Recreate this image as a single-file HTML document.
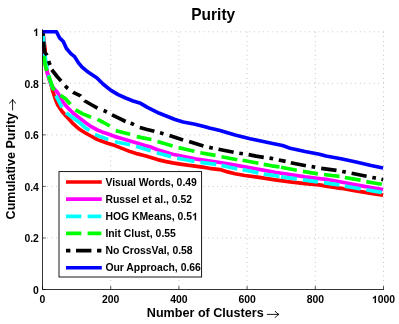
<!DOCTYPE html>
<html><head><meta charset="utf-8"><title>Purity</title>
<style>html,body{margin:0;padding:0;background:#fff;}body{width:399px;height:324px;overflow:hidden;position:relative;font-family:"Liberation Sans",sans-serif;}</style></head>
<body>
<svg width="399" height="324" viewBox="0 0 399 324" style="display:block;position:absolute;left:0;top:0;will-change:transform">
<rect x="0" y="0" width="399" height="324" fill="#fff"/>
<g stroke="#000" stroke-width="0.5" stroke-dasharray="0.7 3.9" opacity="0.62" fill="none"><line x1="110.70" y1="31.8" x2="110.70" y2="289.5"/><line x1="178.90" y1="31.8" x2="178.90" y2="289.5"/><line x1="247.10" y1="31.8" x2="247.10" y2="289.5"/><line x1="315.30" y1="31.8" x2="315.30" y2="289.5"/><line x1="383.50" y1="31.8" x2="383.50" y2="289.5"/><line x1="42.5" y1="237.96" x2="383.5" y2="237.96"/><line x1="42.5" y1="186.42" x2="383.5" y2="186.42"/><line x1="42.5" y1="134.88" x2="383.5" y2="134.88"/><line x1="42.5" y1="83.34" x2="383.5" y2="83.34"/><line x1="42.5" y1="31.80" x2="383.5" y2="31.80"/></g>
<clipPath id="c"><rect x="42.1" y="20" width="350" height="280"/></clipPath>
<g fill="none" stroke-linejoin="round" stroke-width="3.7" clip-path="url(#c)">
<polyline stroke="#ff0000" points="43.00,32.00 43.60,38.00 44.40,44.00 45.10,49.00 45.20,56.00 45.30,63.00 46.40,69.00 48.00,75.00 49.90,81.00 51.50,86.50 52.75,91.25 55.25,98.75 57.75,105.00 61.90,111.25 66.25,116.25 72.50,123.10 78.75,128.75 85.00,132.75 91.25,136.25 97.50,139.60 100.00,140.60 107.50,143.30 115.00,145.60 122.60,148.60 130.10,151.60 137.60,153.90 145.10,155.80 150.00,157.30 157.50,159.60 165.00,161.40 172.60,162.90 180.10,164.10 187.60,165.20 195.10,166.10 202.60,167.10 209.40,168.30 220.00,169.60 227.60,171.90 235.10,173.80 245.00,175.50 257.50,177.20 275.00,179.80 290.10,181.90 305.10,183.60 319.40,184.90 326.00,186.10 341.00,188.30 356.10,190.90 371.10,193.30 383.10,195.10"/>
<polyline stroke="#ff00ff" points="43.00,32.00 43.60,45.00 44.40,56.00 45.80,66.00 47.60,74.00 49.80,81.00 52.50,86.50 55.00,89.80 57.75,92.80 62.50,101.50 67.50,107.50 72.50,112.50 78.75,117.50 85.00,122.30 91.25,126.70 97.50,130.00 103.75,132.60 107.50,133.80 115.00,136.60 122.60,138.80 130.10,141.10 137.60,143.30 145.10,145.60 150.00,146.80 157.50,149.80 165.00,152.10 172.60,154.30 180.10,155.80 187.60,157.30 195.10,158.80 205.00,160.30 220.00,162.50 235.10,165.10 250.10,167.80 264.40,170.40 275.00,172.30 290.10,174.50 305.10,176.80 319.40,178.60 326.00,179.30 341.00,182.00 356.10,184.90 371.10,187.60 383.10,189.50"/>
<path stroke="#00ffff" d="M43.00 32.00 L43.40 38.00 L44.00 46.00 L44.15 47.50M44.75 53.50 L44.80 54.00 L46.00 63.00 L47.20 69.00M48.55 75.00 L49.50 79.00 L51.50 85.00 L52.95 89.00M55.90 95.60 L59.00 101.50 L62.10 107.50M66.25 112.90 L66.40 113.10 L72.50 117.50 L78.75 121.90 L85.00 127.50 L89.40 130.60M95.00 134.40 L100.00 136.60 L108.30 139.60M115.00 141.80 L122.50 143.30 L130.10 144.80M136.10 146.30 L143.30 148.60 L150.50 150.80 L150.60 150.83M156.80 152.80 L164.00 154.70 L171.00 156.60M177.10 158.10 L185.70 159.80 L194.40 161.40M200.40 162.30 L208.30 163.30 L216.30 164.30M221.50 165.40 L229.40 167.20 L237.30 168.90M242.60 169.60 L250.50 171.30 L258.40 172.90M263.75 174.10 L271.60 175.20 L279.50 176.30M281.00 176.80 L288.90 177.90 L296.80 178.90M302.90 179.80 L310.40 180.90 L317.90 181.90M324.00 182.60 L331.70 183.80 L339.50 184.90M344.80 186.10 L352.70 187.50 L360.60 188.80M366.30 189.80 L374.00 191.10 L381.60 192.40 L381.80 192.44"/>
<path stroke="#00ff00" d="M43.80 56.00 L45.00 64.00 L46.75 71.00M48.60 76.00 L50.90 82.00 L53.00 88.00 L54.60 90.30M60.40 95.20 L65.25 98.50 L70.40 104.20M75.40 109.80 L82.75 113.90 L91.10 117.20M97.50 119.40 L103.50 122.50 L109.80 126.00M115.80 130.60 L123.00 132.50 L130.10 134.30M136.80 136.60 L144.00 138.10 L151.40 139.50M157.50 141.50 L165.00 143.80 L172.60 146.10M178.60 147.60 L186.50 149.50 L194.40 151.30M200.40 152.80 L208.00 154.10 L215.50 155.30M221.50 156.80 L229.40 158.30 L237.30 159.80M242.60 160.30 L250.50 161.80 L258.40 163.30M263.75 164.40 L271.60 165.80 L279.50 166.90M281.00 167.30 L288.90 168.80 L296.80 170.30M302.90 171.40 L310.40 172.60 L317.90 173.80M324.00 174.50 L331.70 175.50 L339.50 176.30M344.80 177.50 L352.70 178.80 L360.60 180.10M366.30 181.60 L374.00 183.00 L381.60 184.30 L381.80 184.34"/>
<path stroke="#000000" d="M42.80 30.00 L43.19 35.90M43.58 41.70 L43.60 42.00 L44.10 48.00 L44.80 52.20 L46.60 54.80 L46.78 55.30M48.67 61.00 L49.25 62.90 L50.02 65.00M51.75 69.75 L57.50 77.00 L61.10 81.00M65.20 85.77 L66.60 87.40 L68.00 88.44M73.00 92.15 L73.20 92.30 L80.50 95.80 L80.75 96.09M84.50 100.42 L85.00 101.00 L91.00 104.50 L97.50 108.10M103.60 110.52 L105.30 111.20 L106.80 112.01M112.00 114.80 L118.80 118.20 L125.60 121.50M130.60 123.22 L132.30 123.80 L134.00 124.64M139.80 127.50 L147.00 129.50 L154.30 131.20 L154.40 131.23M160.00 132.82 L161.70 133.30 L163.50 133.81M169.50 135.50 L176.30 137.80 L183.10 140.00M189.10 141.50 L196.20 143.80 L203.40 146.10M209.20 147.40 L211.00 147.80 L212.80 148.16M218.50 149.30 L226.00 150.80 L233.60 152.30M239.30 153.21 L241.10 153.50 L242.90 153.76M248.60 154.60 L256.10 156.10 L263.75 157.30M269.50 158.06 L271.30 158.30 L273.10 158.71M278.80 160.00 L285.60 161.40M290.80 162.80 L298.30 164.30 L305.90 165.80M311.60 166.64 L313.40 166.90 L315.20 167.22M321.20 168.30 L328.80 169.30 L336.50 170.30M342.20 171.44 L344.00 171.80 L345.80 172.16M351.60 173.30 L359.10 174.80 L366.60 176.30M372.30 177.44 L374.10 177.80 L375.90 178.16M381.40 179.26 L381.60 179.30 L383.10 179.60"/>
<polyline stroke="#0000ff" points="42.30,31.75 56.50,31.75 59.50,37.80 63.30,41.50 66.30,48.30 70.80,53.60 74.60,56.60 78.30,62.60 82.10,67.10 86.60,70.90 88.00,72.00 92.50,75.00 97.00,78.00 103.00,84.00 110.60,90.10 118.10,94.60 125.60,98.00 133.10,100.90 140.60,103.30 147.40,107.40 159.40,113.30 167.50,116.50 175.00,119.50 183.10,122.00 195.10,124.30 205.00,126.75 209.40,128.00 220.00,130.50 235.10,135.00 250.10,138.80 264.40,141.80 275.00,144.00 282.60,145.50 290.10,148.20 305.10,151.50 319.40,154.20 326.00,156.00 341.00,158.70 356.10,162.00 371.10,165.50 383.10,168.00"/>
</g>
<g stroke="#000" stroke-width="0.8" fill="none"><line x1="42.5" y1="29.2" x2="42.5" y2="289.5"/><line x1="42.5" y1="289.5" x2="383.9" y2="289.5"/>
<line x1="42.50" y1="289.5" x2="42.50" y2="286.1" stroke-width="0.7"/>
<line x1="42.5" y1="289.50" x2="45.9" y2="289.50" stroke-width="0.6"/>
<line x1="110.70" y1="289.5" x2="110.70" y2="286.1" stroke-width="0.7"/>
<line x1="42.5" y1="237.96" x2="45.9" y2="237.96" stroke-width="0.6"/>
<line x1="178.90" y1="289.5" x2="178.90" y2="286.1" stroke-width="0.7"/>
<line x1="42.5" y1="186.42" x2="45.9" y2="186.42" stroke-width="0.6"/>
<line x1="247.10" y1="289.5" x2="247.10" y2="286.1" stroke-width="0.7"/>
<line x1="42.5" y1="134.88" x2="45.9" y2="134.88" stroke-width="0.6"/>
<line x1="315.30" y1="289.5" x2="315.30" y2="286.1" stroke-width="0.7"/>
<line x1="42.5" y1="83.34" x2="45.9" y2="83.34" stroke-width="0.6"/>
<line x1="383.50" y1="289.5" x2="383.50" y2="286.1" stroke-width="0.7"/>
<line x1="42.5" y1="31.80" x2="45.9" y2="31.80" stroke-width="0.6"/>
</g>
<g font-family="Liberation Sans, sans-serif" font-weight="bold" font-size="10.4px" fill="#000">
<text x="42.50" y="303.1" text-anchor="middle">0</text>
<text x="110.70" y="303.1" text-anchor="middle">200</text>
<text x="178.90" y="303.1" text-anchor="middle">400</text>
<text x="247.10" y="303.1" text-anchor="middle">600</text>
<text x="315.30" y="303.1" text-anchor="middle">800</text>
<path transform="translate(371.94,303.10) scale(0.005078,-0.005078)" d="M806 0H525V1059Q371 915 162 846V1101Q272 1137 401 1237.5Q530 1338 578 1472H806Z" fill="#000"/>
<text x="377.72" y="303.1">000</text>
<text x="38.9" y="293.70" text-anchor="end">0</text>
<text x="38.9" y="242.16" text-anchor="end">0.2</text>
<text x="38.9" y="190.62" text-anchor="end">0.4</text>
<text x="38.9" y="139.08" text-anchor="end">0.6</text>
<text x="38.9" y="87.54" text-anchor="end">0.8</text>
<path transform="translate(33.12,36.00) scale(0.005078,-0.005078)" d="M806 0H525V1059Q371 915 162 846V1101Q272 1137 401 1237.5Q530 1338 578 1472H806Z" fill="#000"/>
</g>
<g font-family="Liberation Sans, sans-serif" font-weight="bold" fill="#000">
<text transform="translate(213.2,19.9) scale(1,1.09)" text-anchor="middle" font-size="15.5px">Purity</text>
<text x="146.8" y="317.35" font-size="12.6px">Number of Clusters</text>
<text transform="translate(15.0,219.4) rotate(-90)" font-size="12.5px">Cumulative Purity</text>
<g fill="none" stroke="#000" stroke-width="0.9" stroke-linecap="round" stroke-linejoin="round"><path d="M267.3 314.4H278.7M275.2 311.3Q276.6 313.4 278.9 314.4Q276.6 315.4 275.2 317.5"/><path d="M12.6 110V99.7M9.5 103.2Q11.6 101.8 12.6 99.5Q13.6 101.8 15.7 103.2"/></g>
</g>
<rect x="59.0" y="171.6" width="142.6" height="105.4" fill="#fff" stroke="#000" stroke-width="0.9"/>
<g font-family="Liberation Sans, sans-serif" font-weight="bold" font-size="10.4px" fill="#000">
<line x1="66" y1="182.00" x2="101.8" y2="182.00" stroke="#ff0000" stroke-width="3.7"/>
<text x="105.4" y="186.10">Visual Words, 0.49</text>
<line x1="66" y1="199.15" x2="101.8" y2="199.15" stroke="#ff00ff" stroke-width="3.7"/>
<text x="105.4" y="203.13">Russel et al., 0.52</text>
<line x1="66" y1="216.30" x2="101.8" y2="216.30" stroke="#00ffff" stroke-width="3.7" stroke-dasharray="15.4 6.2 13.8 100"/>
<text x="105.4" y="220.16">HOG KMeans, 0.5</text>
<path transform="translate(192.03,220.16) scale(0.005078,-0.005078)" d="M806 0H525V1059Q371 915 162 846V1101Q272 1137 401 1237.5Q530 1338 578 1472H806Z" fill="#000"/>
<line x1="66" y1="233.45" x2="101.8" y2="233.45" stroke="#00ff00" stroke-width="3.7" stroke-dasharray="15.4 6.2 13.8 100"/>
<text x="105.4" y="237.19">Init Clust, 0.55</text>
<line x1="66" y1="250.60" x2="101.8" y2="250.60" stroke="#000000" stroke-width="3.7" stroke-dasharray="4.4 5.6 15.4 5.6 4.4 100"/>
<text x="105.4" y="254.22">No CrossVal, 0.58</text>
<line x1="66" y1="267.75" x2="101.8" y2="267.75" stroke="#0000ff" stroke-width="3.7"/>
<text x="105.4" y="271.25">Our Approach, 0.66</text>
</g>
</svg>
</body></html>
